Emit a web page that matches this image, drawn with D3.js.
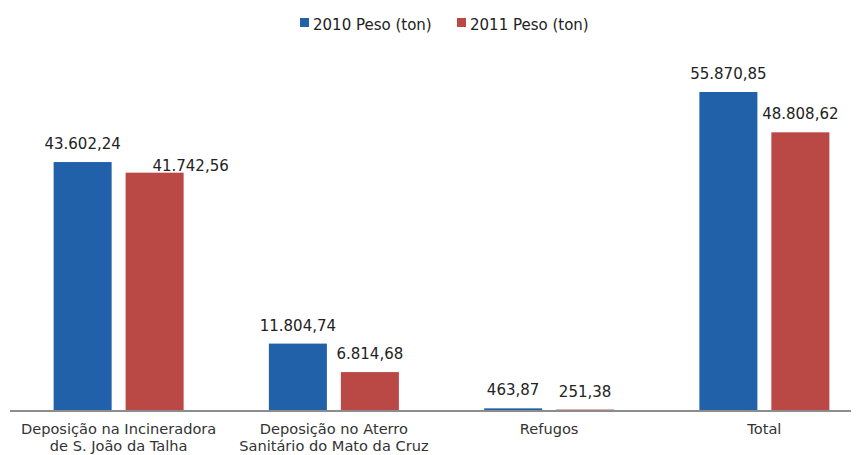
<!DOCTYPE html>
<html>
<head>
<meta charset="utf-8">
<script src="https://cdn.jsdelivr.net/npm/d3@7"></script>
<style>
  html, body { margin: 0; padding: 0; background: #fff; }
  svg { display: block; }
  text { font-family: "DejaVu Sans", sans-serif; }
</style>
</head>
<body>
<svg id="chart" width="860" height="455"></svg>
<script>
// Destino dos resíduos, peso em toneladas
const categories = [
  ["Deposição na Incineradora", "de S. João da Talha"],
  ["Deposição no Aterro", "Sanitário do Mato da Cruz"],
  ["Refugos"],
  ["Total"]
];
const seriesNames = ["2010 Peso (ton)", "2011 Peso (ton)"];
const values2010 = [43602.24, 11804.74, 463.87, 55870.85];
const values2011 = [41742.56, 6814.68, 251.38, 48808.62];
const colors = ["#2161a9", "#ba4845"];

const svg = d3.select("#chart");
const baseY = 411, topY = 92;

const keys = categories.map((c, i) => i);
const x0 = d3.scaleBand().domain(keys).range([11, 872])
  .paddingInner(0.396).paddingOuter(0.198);
const x1 = d3.scaleBand().domain([0, 1]).range([0, x0.bandwidth()])
  .paddingInner(0.194);
const maxV = d3.max(values2010.concat(values2011));
const y = d3.scaleLinear().domain([0, maxV]).range([baseY, topY]);

const fmt = v => {
  const [i, d] = v.toFixed(2).split(".");
  return i.replace(/\B(?=(\d{3})+(?!\d))/g, ".") + "," + d;
};

const rows = keys.map(i => ({ i, vals: [values2010[i], values2011[i]] }));

// Bars
const groups = svg.append("g").selectAll("g").data(rows).join("g")
  .attr("transform", d => `translate(${x0(d.i)},0)`);
groups.selectAll("rect")
  .data(d => d.vals.map((v, s) => ({ v, s, i: d.i })))
  .join("rect")
  .attr("x", d => x1(d.s))
  .attr("width", x1.bandwidth())
  .attr("y", d => y(d.v))
  .attr("height", d => baseY - y(d.v))
  .attr("fill", d => colors[d.s]);

// Value labels (one label nudged aside to clear its neighbour)
const nudge = { "0-1": [36, 11] };
const off = d => nudge[d.i + "-" + d.s] || [0, 0];
groups.selectAll("text.val")
  .data(d => d.vals.map((v, s) => ({ v, s, i: d.i })))
  .join("text")
  .attr("class", "val")
  .attr("x", d => x1(d.s) + x1.bandwidth() / 2 + off(d)[0])
  .attr("y", d => y(d.v) - 13 + off(d)[1])
  .attr("text-anchor", "middle")
  .attr("font-size", 15)
  .attr("fill", "#222")
  .text(d => fmt(d.v));

// Baseline axis
svg.append("line")
  .attr("x1", 10).attr("x2", 851)
  .attr("y1", baseY).attr("y2", baseY)
  .attr("stroke", "#8c8c8c").attr("stroke-width", 2);

// Category labels
const cat = svg.append("g").selectAll("text").data(keys).join("text")
  .attr("x", i => x0(i) + x0.bandwidth() / 2)
  .attr("y", 434)
  .attr("text-anchor", "middle")
  .attr("font-size", 14.6)
  .attr("fill", "#333");
cat.selectAll("tspan").data(i => categories[i]).join("tspan")
  .attr("x", function () { return d3.select(this.parentNode).attr("x"); })
  .attr("dy", (d, k) => k === 0 ? 0 : 17)
  .text(d => d);

// Legend
const legendX = [300, 457];
const lg = svg.append("g").selectAll("g").data(seriesNames).join("g")
  .attr("transform", (d, s) => `translate(${legendX[s]},0)`);
lg.append("rect").attr("x", 0).attr("y", 18).attr("width", 9).attr("height", 9)
  .attr("fill", (d, s) => colors[s]);
lg.append("text").attr("x", 13).attr("y", 30)
  .attr("font-size", 15).attr("fill", "#222")
  .text(d => d);
</script>
</body>
</html>
